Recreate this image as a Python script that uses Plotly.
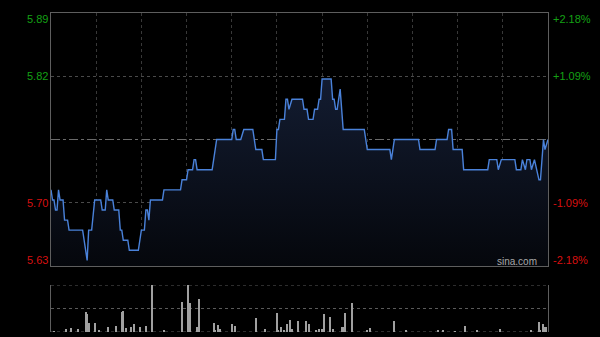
import plotly.graph_objects as go

# ---------------- data ----------------
prev_close = 5.76
span_pct = 2.18

price_minutes = [0, 1, 2, 3, 4, 5, 6, 8, 9, 11, 12, 21, 24, 25, 27, 29, 33, 34, 36, 37, 38, 41, 42, 45,
                 46, 47, 48, 51, 52, 58, 60, 62, 63, 64, 65, 66, 74, 75, 86, 87, 90, 91, 94, 95, 96,
                 97, 107, 110, 120, 121, 122, 123, 126, 128, 134, 136, 140, 141, 149, 150, 151, 152,
                 155, 156, 157, 158, 160, 167, 168, 170, 171, 174, 175, 177, 178, 179, 180, 186, 187,
                 188, 189, 190, 192, 194, 208, 210, 225, 226, 228, 244, 245, 255, 256, 263, 264, 266,
                 267, 273, 274, 290, 291, 296, 297, 299, 308, 309, 312, 313, 315, 316, 318, 319, 321,
                 324, 325, 327, 328, 330]
price_values = [5.71, 5.70, 5.70, 5.69, 5.69, 5.71, 5.70, 5.70, 5.68, 5.68, 5.67, 5.67, 5.64, 5.67, 5.67,
                5.70, 5.70, 5.69, 5.69, 5.71, 5.70, 5.70, 5.69, 5.69, 5.67, 5.67, 5.66, 5.66, 5.65, 5.65,
                5.67, 5.67, 5.69, 5.69, 5.68, 5.70, 5.70, 5.71, 5.71, 5.72, 5.72, 5.73, 5.73, 5.74, 5.74,
                5.73, 5.73, 5.76, 5.76, 5.77, 5.77, 5.76, 5.76, 5.77, 5.77, 5.75, 5.75, 5.74, 5.74, 5.77,
                5.77, 5.78, 5.78, 5.80, 5.80, 5.79, 5.80, 5.80, 5.79, 5.79, 5.78, 5.78, 5.79, 5.79, 5.80,
                5.80, 5.82, 5.82, 5.80, 5.80, 5.79, 5.79, 5.81, 5.77, 5.77, 5.75, 5.75, 5.74, 5.76, 5.76,
                5.75, 5.75, 5.76, 5.76, 5.77, 5.77, 5.75, 5.75, 5.73, 5.73, 5.74, 5.74, 5.73, 5.74, 5.74,
                5.73, 5.73, 5.74, 5.73, 5.74, 5.74, 5.73, 5.74, 5.72, 5.72, 5.76, 5.75, 5.76]

vol_minutes = [2, 10, 13, 18, 23, 24, 25, 29, 32, 38, 43, 47, 48, 50, 53, 55, 59, 63, 67, 75, 87, 91,
               92, 97, 98, 108, 109, 111, 112, 120, 122, 136, 142, 150, 151, 153, 155, 157, 159, 160,
               164, 169, 171, 176, 178, 180, 181, 185, 187, 193, 194, 195, 200, 210, 212, 228, 236,
               257, 260, 268, 275, 283, 298, 319, 324, 325, 327, 328, 329]
vol_values = [8, 28, 32, 28, 172, 152, 80, 80, 12, 44, 48, 172, 176, 32, 44, 64, 44, 52, 400, 20, 252,
              400, 244, 44, 280, 80, 20, 56, 28, 64, 48, 116, 28, 164, 20, 44, 12, 64, 104, 28, 96, 92,
              64, 20, 28, 28, 156, 124, 28, 44, 44, 164, 244, 12, 32, 92, 12, 20, 12, 8, 52, 20, 24,
              12, 88, 20, 64, 40, 40]

left_labels = ["5.89", "5.82", "5.70", "5.63"]
right_labels = ["+2.18%", "+1.09%", "-1.09%", "-2.18%"]
grid_minutes = [30, 60, 90, 120, 150, 180, 210, 240, 270, 300]

# ---------------- layout geometry ----------------
W, H = 600, 337
X0, X1 = 51, 548
MAIN_TOP, MAIN_BOT = 13, 266
VOL_TOP, VOL_BOT = 285, 332


def fy(py):
    return 1 - py / H


lo = prev_close * (1 - span_pct / 100)
hi = prev_close * (1 + span_pct / 100)
q = (hi - prev_close) / 2
label_vals = [hi, prev_close + q, prev_close - q, lo]

GREEN = "#14a014"
RED = "#d81010"

fig = go.Figure()
fig.add_trace(go.Scatter(
    x=price_minutes, y=price_values, mode="lines",
    line=dict(color="#4a82da", width=1.4),
    fill="tozeroy",
    fillgradient=dict(type="vertical",
                      colorscale=[[0, "#05070c"], [1, "#131c31"]],
                      start=lo, stop=max(price_values)),
    xaxis="x", yaxis="y", hoverinfo="skip", showlegend=False))

fig.add_trace(go.Bar(
    x=vol_minutes, y=vol_values, width=0.7,
    marker=dict(color="#a0a0a0", line=dict(width=0)),
    xaxis="x2", yaxis="y2", hoverinfo="skip", showlegend=False))

shapes = [
    dict(type="line", xref="x domain", yref="y", x0=0, x1=1, y0=prev_close, y1=prev_close,
         line=dict(color="#6a6a6a", width=1, dash="dashdot"), layer="below"),
]
for v in [0, 200, 400]:
    shapes.append(dict(type="line", xref="x2 domain", yref="y2", x0=0, x1=1, y0=v, y1=v,
                       line=dict(color="#5a5a5a", width=1, dash="dot"), layer="below"))

annotations = []
anchors = ["top", "middle", "middle", "bottom"]
shifts = [2, 0, 0, -2]
for i, (lv, txt) in enumerate(zip(label_vals, left_labels)):
    col = GREEN if lv > prev_close else RED
    annotations.append(dict(x=(X0 - 1) / W, xref="paper", xanchor="right",
                            y=lv, yref="y", yanchor=anchors[i], yshift=shifts[i],
                            text=txt, showarrow=False,
                            font=dict(family="Liberation Sans, Arial", size=11, color=col)))
    annotations.append(dict(x=(X1 + 3) / W, xref="paper", xanchor="left",
                            y=lv, yref="y", yanchor=anchors[i], yshift=shifts[i],
                            text=right_labels[i], showarrow=False,
                            font=dict(family="Liberation Sans, Arial", size=11, color=col)))
annotations.append(dict(x=539 / W, xref="paper", xanchor="right", y=fy(261), yref="paper",
                        yanchor="middle", text="sina.com", showarrow=False,
                        font=dict(family="Liberation Sans, Arial", size=10, color="#a8a8a8")))

fig.update_layout(
    width=W, height=H,
    margin=dict(l=0, r=0, t=0, b=0),
    paper_bgcolor="#000000", plot_bgcolor="#000000",
    showlegend=False, bargap=0,
    xaxis=dict(domain=[X0 / W, X1 / W], range=[0, 330], anchor="y",
               tickvals=grid_minutes, showticklabels=False, ticks="",
               showgrid=True, gridcolor="#383838", griddash="dot", gridwidth=1,
               zeroline=False, showline=True, linecolor="#5e5e5e", mirror=True, linewidth=1),
    yaxis=dict(domain=[fy(MAIN_BOT), fy(MAIN_TOP)], range=[lo, hi], anchor="x",
               tickvals=[prev_close + q, prev_close - q], showticklabels=False, ticks="",
               showgrid=True, gridcolor="#4a4a4a", griddash="dot", gridwidth=1,
               zeroline=False, showline=True, linecolor="#5e5e5e", mirror=True, linewidth=1),
    xaxis2=dict(domain=[X0 / W, X1 / W], range=[0, 330], anchor="y2",
                showticklabels=False, ticks="", showgrid=False, zeroline=False, showline=False),
    yaxis2=dict(domain=[fy(VOL_BOT), fy(VOL_TOP)], range=[0, 400], anchor="x2",
                showticklabels=False, ticks="", showgrid=False, zeroline=False,
                showline=True, linecolor="#5e5e5e", mirror=True, linewidth=1),
    shapes=shapes, annotations=annotations,
)

fig.write_html("out.html")
